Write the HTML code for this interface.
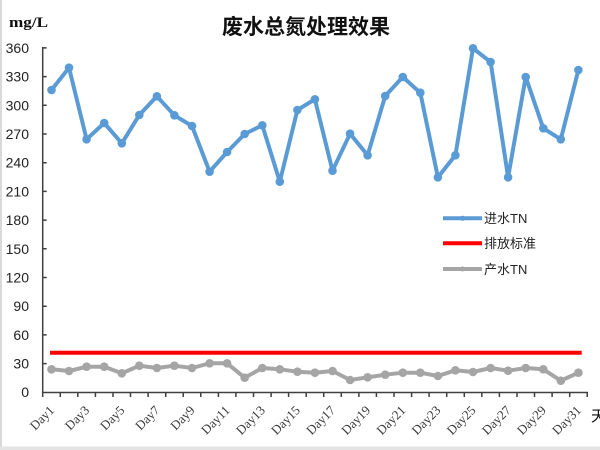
<!DOCTYPE html>
<html><head><meta charset="utf-8"><style>
html,body{margin:0;padding:0;background:#fff;}
svg{display:block;}
</style></head><body>
<svg width="600" height="450" viewBox="0 0 600 450" xmlns="http://www.w3.org/2000/svg">
<rect x="0" y="0" width="600" height="450" fill="#fff"/>
<rect x="0" y="0" width="2" height="450" fill="#d9d9d9"/>
<rect x="0" y="446.5" width="600" height="3.5" fill="#e4e4e4"/>

<text x="306" y="34" text-anchor="middle" font-family="'Liberation Sans','Noto Sans CJK SC',sans-serif" font-size="21" font-weight="bold" fill="#111">废水总氮处理效果</text>
<text x="9" y="27" font-family="'Liberation Serif',serif" font-size="15" font-weight="bold" fill="#111" textLength="39" lengthAdjust="spacingAndGlyphs">mg/L</text>

<g font-family="'Liberation Sans',sans-serif" font-size="14" fill="#222" text-anchor="end">
<text x="29" y="397">0</text>
<text x="29" y="368.6">30</text>
<text x="29" y="339.9">60</text>
<text x="29" y="311.2">90</text>
<text x="29" y="282.5">120</text>
<text x="29" y="253.8">150</text>
<text x="29" y="225.1">180</text>
<text x="29" y="196.4">210</text>
<text x="29" y="167.7">240</text>
<text x="29" y="139.0">270</text>
<text x="29" y="110.3">300</text>
<text x="29" y="81.6">330</text>
<text x="29" y="52.9">360</text>
</g>

<g stroke="#404040" stroke-width="1.5" fill="none">
<line x1="42.7" y1="47" x2="42.7" y2="393"/>
<line x1="42" y1="392.5" x2="588" y2="392.5"/>
<path d="M42.7 363.6h4M42.7 334.9h4M42.7 306.2h4M42.7 277.5h4M42.7 248.8h4M42.7 220.1h4M42.7 191.4h4M42.7 162.7h4M42.7 134h4M42.7 105.3h4M42.7 76.6h4M42.7 47.9h4"/>
<path d="M42.7 392v5M60.3 392v5M77.8 392v5M95.4 392v5M113 392v5M130.5 392v5M148.1 392v5M165.7 392v5M183.2 392v5M200.8 392v5M218.4 392v5M235.9 392v5M253.5 392v5M271.1 392v5M288.6 392v5M306.2 392v5M323.7 392v5M341.3 392v5M358.9 392v5M376.4 392v5M394 392v5M411.6 392v5M429.1 392v5M446.7 392v5M464.3 392v5M481.8 392v5M499.4 392v5M517 392v5M534.5 392v5M552.1 392v5M569.7 392v5M587.2 392v5"/>
</g>

<g font-family="'Liberation Serif',serif" font-size="13" fill="#3a3a3a" text-anchor="end">
<text transform="translate(55,411) rotate(-45)">Day1</text>
<text transform="translate(90.1,411) rotate(-45)">Day3</text>
<text transform="translate(125.3,411) rotate(-45)">Day5</text>
<text transform="translate(160.4,411) rotate(-45)">Day7</text>
<text transform="translate(195.5,411) rotate(-45)">Day9</text>
<text transform="translate(230.6,411) rotate(-45)">Day11</text>
<text transform="translate(265.8,411) rotate(-45)">Day13</text>
<text transform="translate(300.9,411) rotate(-45)">Day15</text>
<text transform="translate(336,411) rotate(-45)">Day17</text>
<text transform="translate(371.1,411) rotate(-45)">Day19</text>
<text transform="translate(406.3,411) rotate(-45)">Day21</text>
<text transform="translate(441.4,411) rotate(-45)">Day23</text>
<text transform="translate(476.5,411) rotate(-45)">Day25</text>
<text transform="translate(511.6,411) rotate(-45)">Day27</text>
<text transform="translate(546.8,411) rotate(-45)">Day29</text>
<text transform="translate(581.9,411) rotate(-45)">Day31</text>
</g>
<text x="591" y="421" font-family="'Liberation Sans','Noto Sans CJK SC',sans-serif" font-size="15" fill="#111">天</text>

<line x1="50" y1="352.7" x2="581.7" y2="352.7" stroke="#ff0000" stroke-width="4"/>

<g fill="none" stroke="#a5a5a5" stroke-width="4" stroke-linejoin="round">
<polyline points="51.5,369.3 69,371 86.6,366.7 104.2,366.7 121.8,373.3 139.3,365.7 156.9,368 174.4,365.7 192,368 209.6,363.3 227.1,363.3 244.7,377.7 262.3,368 279.8,369.3 297.4,371.7 314.9,372.7 332.5,371 350.1,380 367.6,377.3 385.2,374.7 402.8,372.7 420.3,372.7 437.9,376 455.4,370.3 473,372 490.6,368 508.1,370.7 525.7,368 543.3,369.3 560.8,380.7 578.4,372.7"/>
</g>
<g fill="#a5a5a5">
<circle cx="51.5" cy="369.3" r="4.3"/><circle cx="69" cy="371" r="4.3"/><circle cx="86.6" cy="366.7" r="4.3"/><circle cx="104.2" cy="366.7" r="4.3"/><circle cx="121.8" cy="373.3" r="4.3"/><circle cx="139.3" cy="365.7" r="4.3"/><circle cx="156.9" cy="368" r="4.3"/><circle cx="174.4" cy="365.7" r="4.3"/><circle cx="192" cy="368" r="4.3"/><circle cx="209.6" cy="363.3" r="4.3"/><circle cx="227.1" cy="363.3" r="4.3"/><circle cx="244.7" cy="377.7" r="4.3"/><circle cx="262.3" cy="368" r="4.3"/><circle cx="279.8" cy="369.3" r="4.3"/><circle cx="297.4" cy="371.7" r="4.3"/><circle cx="314.9" cy="372.7" r="4.3"/><circle cx="332.5" cy="371" r="4.3"/><circle cx="350.1" cy="380" r="4.3"/><circle cx="367.6" cy="377.3" r="4.3"/><circle cx="385.2" cy="374.7" r="4.3"/><circle cx="402.8" cy="372.7" r="4.3"/><circle cx="420.3" cy="372.7" r="4.3"/><circle cx="437.9" cy="376" r="4.3"/><circle cx="455.4" cy="370.3" r="4.3"/><circle cx="473" cy="372" r="4.3"/><circle cx="490.6" cy="368" r="4.3"/><circle cx="508.1" cy="370.7" r="4.3"/><circle cx="525.7" cy="368" r="4.3"/><circle cx="543.3" cy="369.3" r="4.3"/><circle cx="560.8" cy="380.7" r="4.3"/><circle cx="578.4" cy="372.7" r="4.3"/>
</g>

<g fill="none" stroke="#5b9bd5" stroke-width="4" stroke-linejoin="round">
<polyline points="51.5,90 69,67.7 86.6,139.3 104.2,123 121.8,143.3 139.3,115 156.9,96.3 174.4,115.3 192,126 209.6,171.7 227.1,152 244.7,134 262.3,125.3 279.8,181.7 297.4,110 314.9,99.3 332.5,170.7 350.1,133.7 367.6,155.3 385.2,96 402.8,77 420.3,92.7 437.9,177.3 455.4,155.3 473,48.3 490.6,62 508.1,177.3 525.7,77 543.3,128.3 560.8,139.3 578.4,70"/>
</g>
<g fill="#5b9bd5">
<circle cx="51.5" cy="90" r="4.3"/><circle cx="69" cy="67.7" r="4.3"/><circle cx="86.6" cy="139.3" r="4.3"/><circle cx="104.2" cy="123" r="4.3"/><circle cx="121.8" cy="143.3" r="4.3"/><circle cx="139.3" cy="115" r="4.3"/><circle cx="156.9" cy="96.3" r="4.3"/><circle cx="174.4" cy="115.3" r="4.3"/><circle cx="192" cy="126" r="4.3"/><circle cx="209.6" cy="171.7" r="4.3"/><circle cx="227.1" cy="152" r="4.3"/><circle cx="244.7" cy="134" r="4.3"/><circle cx="262.3" cy="125.3" r="4.3"/><circle cx="279.8" cy="181.7" r="4.3"/><circle cx="297.4" cy="110" r="4.3"/><circle cx="314.9" cy="99.3" r="4.3"/><circle cx="332.5" cy="170.7" r="4.3"/><circle cx="350.1" cy="133.7" r="4.3"/><circle cx="367.6" cy="155.3" r="4.3"/><circle cx="385.2" cy="96" r="4.3"/><circle cx="402.8" cy="77" r="4.3"/><circle cx="420.3" cy="92.7" r="4.3"/><circle cx="437.9" cy="177.3" r="4.3"/><circle cx="455.4" cy="155.3" r="4.3"/><circle cx="473" cy="48.3" r="4.3"/><circle cx="490.6" cy="62" r="4.3"/><circle cx="508.1" cy="177.3" r="4.3"/><circle cx="525.7" cy="77" r="4.3"/><circle cx="543.3" cy="128.3" r="4.3"/><circle cx="560.8" cy="139.3" r="4.3"/><circle cx="578.4" cy="70" r="4.3"/>
</g>

<g>
<line x1="443" y1="218.3" x2="482" y2="218.3" stroke="#5b9bd5" stroke-width="4"/>
<circle cx="462.5" cy="218.3" r="2.5" fill="#5b9bd5"/>
<line x1="443" y1="243.3" x2="482" y2="243.3" stroke="#ff0000" stroke-width="4"/>
<line x1="443" y1="269" x2="482" y2="269" stroke="#a5a5a5" stroke-width="4"/>
<circle cx="462.5" cy="269" r="2.5" fill="#a5a5a5"/>
</g>
<g font-family="'Liberation Sans','Noto Sans CJK SC',sans-serif" font-size="13" fill="#222">
<text x="484" y="223">进水TN</text>
<text x="484" y="248">排放标准</text>
<text x="484" y="274">产水TN</text>
</g>
</svg>
</body></html>
